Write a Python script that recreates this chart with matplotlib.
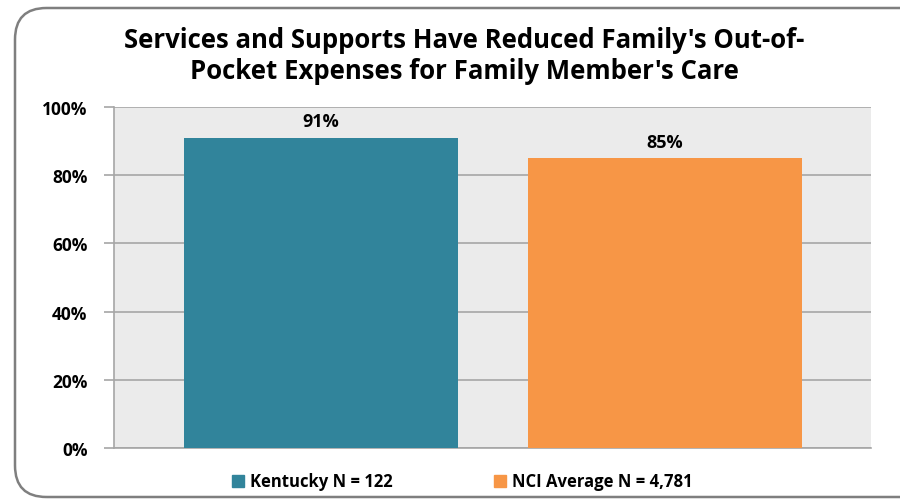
import matplotlib.pyplot as plt
from matplotlib.patches import FancyBboxPatch, Rectangle

plt.rcParams['font.family'] = ['Open Sans', 'DejaVu Sans']

categories = ["Kentucky N = 122", "NCI Average N = 4,781"]
values = [91, 85]
colors = ["#31849B", "#F79646"]
yticks = [0, 20, 40, 60, 80, 100]

W, H = 900, 502
fig = plt.figure(figsize=(9, 5.02), dpi=100)

# rounded outer frame (runs off the right edge)
frame = FancyBboxPatch((15 / W, 1 - 498 / H), 960 / W, 489 / H,
                       boxstyle="round,pad=0,rounding_size=0.035",
                       transform=fig.transFigure, fill=False,
                       edgecolor="#7F7F7F", linewidth=1.8, mutation_aspect=W / H)
fig.patches.append(frame)

ax = fig.add_axes([114 / W, 1 - 449 / H, (871 - 114) / W, (449 - 108) / H])
ax.set_facecolor("#EBEBEB")

x = [0, 1]
bars = ax.bar(x, values, width=274 / 344, color=colors, zorder=3)
ax.set_xlim(-207 / 344, 1 + 206 / 344)
ax.set_ylim(0, 100)

ax.set_yticks(yticks)
ax.set_yticklabels([f"{t}%" for t in yticks], fontsize=12.5, fontweight="bold")
ax.set_xticks([])
ax.grid(axis="y", color="#A6A6A6", linewidth=1.2, zorder=1)
ax.tick_params(axis="y", length=7, color="#A6A6A6", width=1.2, pad=12)

for s in ["top", "right"]:
    ax.spines[s].set_visible(False)
for s in ["left", "bottom"]:
    ax.spines[s].set_color("#A6A6A6")
    ax.spines[s].set_linewidth(1.2)

for b, v in zip(bars, values):
    ax.text(b.get_x() + b.get_width() / 2, v + 2.2, f"{v}%", ha="center",
            va="bottom", fontsize=13, fontweight="bold")

fig.text(464 / W, 1 - 56 / H,
         "Services and Supports Have Reduced Family's Out-of-\nPocket Expenses for Family Member's Care",
         ha="center", va="center", fontsize=18.5, fontweight="bold", linespacing=1.2)

# legend
leg_x = [232, 494]
for lx, c, lab in zip(leg_x, colors, categories):
    fig.patches.append(Rectangle((lx / W, 1 - 488 / H), 12 / W, 12 / H,
                                 transform=fig.transFigure, color=c))
    fig.text((lx + 18) / W, 1 - 482 / H, lab, ha="left", va="center",
             fontsize=12, fontweight="bold")

fig.savefig("out.png", dpi=100)
